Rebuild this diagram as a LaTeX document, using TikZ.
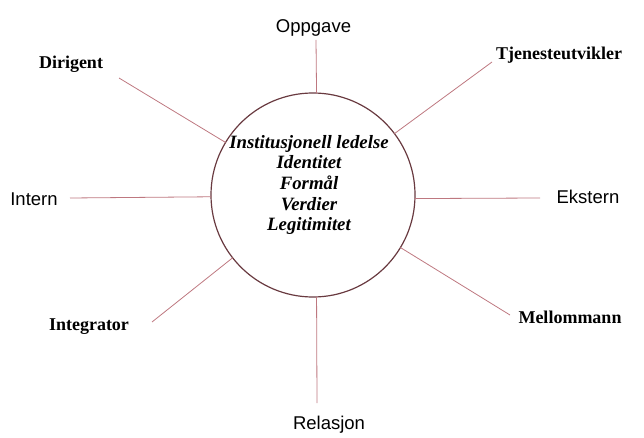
\documentclass[tikz,border=0pt]{standalone}
\usepackage{fontspec}
\setmainfont{Liberation Serif}
\setsansfont{Liberation Sans}
\definecolor{spokered}{RGB}{190,120,128}
\definecolor{ringred}{RGB}{105,58,64}
\tikzset{
every picture/.style={
line width=0.8pt
}}

\begin{document}
\begin{tikzpicture}[x=1pt, y=-1pt,
role/.style = {anchor=base, inner sep=0pt, font=\fontsize{18}{20}\selectfont\bfseries},
axis/.style = {anchor=base, inner sep=0pt, font=\fontsize{18.5}{22}\selectfont\sffamily},
link/.style = {draw=spokered, line width=0.8pt}]
\useasboundingbox (0,0) rectangle (644,438);

\node [circle, draw=ringred, line width=1.2pt, minimum size=204pt, inner sep=0pt, outer sep=0pt] at (313,195) (hub) {};
\node [align=center, font=\fontsize{18.8}{20.7}\selectfont\bfseries\itshape] at (309,185) (core)
  {Institusjonell ledelse\\Identitet\\Formål\\Verdier\\Legitimitet};

% labels
\node [axis] at (313.5,33) (oppgave) {Oppgave};
\node [axis] at (329,429) (relasjon) {Relasjon};
\node [axis] at (34,205) (intern) {Intern};
\node [axis] at (588,204) (ekstern) {Ekstern};
\node [role] at (71,69) (dirigent) {Dirigent};
\node [role] at (559,60) (tjeneste) {Tjenesteutvikler};
\node [role] at (89,330) (integrator) {Integrator};
\node [role] at (570,323) (mellom) {Mellommann};

% free ends of the spokes
\coordinate (oppgave-end) at (316,40);
\coordinate (relasjon-end) at (317,403);
\coordinate (intern-end) at (70,198);
\coordinate (ekstern-end) at (540,198);
\coordinate (dirigent-end) at (119,78);
\coordinate (tjeneste-end) at (492,62);
\coordinate (integrator-end) at (152,322);
\coordinate (mellom-end) at (510,315);

\draw [link] (hub.88) -- (oppgave-end);
\draw [link] (hub.272) -- (relasjon-end);
\draw [link] (hub.181.7) -- (intern-end);
\draw [link] (hub.358.3) -- (ekstern-end);
\draw [link] (hub.149) -- (dirigent-end);
\draw [link] (hub.37) -- (tjeneste-end);
\draw [link] (hub.218) -- (integrator-end);
\draw [link] (hub.329) -- (mellom-end);

\end{tikzpicture}
\end{document}
